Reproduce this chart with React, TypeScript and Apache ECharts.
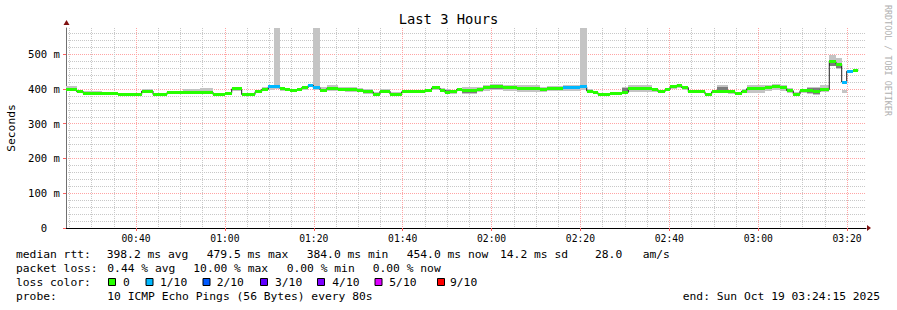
import React, { useEffect, useRef } from "react";
import * as echarts from "echarts";

// ---- data (time in clock minutes since 00:00, values in ms) ----
const segStart = [
  24.25, 26.66, 28.14, 32.28, 35.95, 41.28, 43.83, 46.98, 50.58, 54.4,
  57.33, 60.03, 61.53, 63.78, 66.78, 68.28, 69.77, 71.05, 72.4, 73.53,
  74.65, 76.16, 77.28, 78.77, 79.89, 81.4, 82.91, 85.52, 87.03, 89.66,
  91.14, 93.39, 94.9, 97.15, 99.78, 105.03, 106.53, 108.4, 109.53, 110.65,
  112.16, 113.28, 116.66, 118.14, 119.65, 122.64, 125.66, 130.9, 132.41, 136.14,
  139.9, 141.41, 142.89, 143.95, 146.65, 149.28, 150.77, 156.03, 157.45, 159.03,
  160.15, 161.66, 162.78, 164.27, 168.03, 169.53, 170.66, 173.27, 174.78, 176.28,
  177.41, 181.53, 183.03, 184.9, 186.41, 187.89, 189.4, 190.91, 192.39, 193.9,
  195.99, 197.5, 198.78, 199.91, 201.39,
];
const dataEnd = 202.52;
const segMedian = [
  398, 392, 387, 386, 384, 394, 384, 390, 389, 391,
  384, 388, 400, 384, 392, 399, 406, 406, 401, 398,
  395, 398, 404, 411, 404, 397, 401, 398, 399, 397,
  392, 385, 394, 385, 392, 397, 403, 397, 389, 392,
  399, 395, 399, 403, 406, 403, 401, 399, 401, 404,
  406, 394, 390, 384, 387, 390, 401, 398, 392, 398,
  406, 411, 404, 392, 385, 392, 394, 392, 387, 394,
  401, 404, 406, 403, 395, 385, 395, 397, 392, 398,
  478, 471, 420, 451, 454,
];
const segLoss = [
  0, 0, 0, 0, 0, 0, 0, 0, 0, 0,
  0, 0, 0, 0, 0, 0, 1, 1, 0, 0,
  0, 0, 0, 1, 1, 0, 0, 0, 0, 0,
  0, 0, 0, 0, 0, 0, 0, 0, 0, 0,
  0, 0, 0, 0, 0, 0, 0, 0, 0, 1,
  1, 0, 0, 0, 0, 0, 0, 0, 0, 0,
  0, 0, 0, 0, 0, 0, 0, 0, 0, 0,
  0, 0, 0, 0, 0, 0, 0, 0, 0, 0,
  0, 0, 1, 1, 0,
];
// outer smoke (all pings)
const smokeLow = [
  394, 389, 385, 384, 383, 391, 383, 386, 386, 387,
  383, 386, 393, 383, 389, 393, 398, 400, 394, 393,
  391, 395, 398, 405, 398, 393, 394, 393, 392, 390,
  386, 383, 389, 383, 387, 392, 398, 392, 386, 386,
  393, 386, 391, 395, 397, 395, 392, 390, 393, 395,
  398, 387, 386, 383, 384, 386, 391, 392, 388, 394,
  401, 404, 398, 388, 383, 387, 388, 386, 384, 389,
  389, 395, 398, 395, 388, 383, 389, 386, 384, 392,
  466, 458, 389, 451, 454,
];
const smokeHigh = [
  408, 397, 394, 389, 387, 400, 388, 395, 399, 402,
  388, 391, 403, 387, 395, 407, 412, 700, 407, 403,
  400, 402, 408, 414, 700, 405, 410, 405, 406, 403,
  400, 392, 400, 390, 398, 401, 406, 402, 400, 398,
  404, 407, 406, 410, 413, 411, 410, 406, 408, 410,
  700, 400, 395, 387, 391, 405, 410, 404, 397, 402,
  410, 414, 408, 397, 389, 396, 410, 398, 392, 400,
  410, 411, 414, 410, 402, 391, 400, 405, 406, 410,
  497, 488, 398, 451, 454,
];
// inner (denser) smoke
const coreLow = [
  398, 392, 387, 386, 384, 392, 384, 390, 389, 391,
  384, 388, 397, 384, 392, 396, 406, 406, 401, 398,
  393, 398, 404, 411, 404, 397, 397, 393, 393, 391,
  387, 385, 391, 385, 392, 397, 403, 397, 387, 392,
  399, 387, 399, 399, 401, 403, 396, 399, 397, 399,
  406, 389, 390, 384, 387, 388, 396, 398, 392, 398,
  406, 411, 404, 392, 385, 392, 392, 392, 387, 394,
  397, 399, 406, 403, 391, 385, 395, 389, 386, 394,
  466, 461, 420, 451, 454,
];
const coreHigh = [
  398, 392, 387, 386, 384, 398, 384, 390, 389, 391,
  384, 388, 402, 384, 392, 404, 406, 406, 401, 398,
  399, 398, 404, 411, 404, 397, 406, 403, 403, 401,
  397, 385, 398, 385, 392, 397, 403, 397, 396, 392,
  399, 401, 399, 407, 410, 403, 405, 399, 405, 407,
  406, 398, 390, 384, 387, 402, 406, 398, 392, 398,
  406, 411, 404, 392, 385, 392, 406, 392, 387, 394,
  407, 409, 406, 403, 399, 385, 395, 402, 402, 404,
  482, 475, 420, 451, 454,
];

const majorTimes = [40, 60, 80, 100, 120, 140, 160, 180, 200];
const minorTimes = [25, 30, 35, 45, 50, 55, 65, 70, 75, 85, 90, 95, 105, 110, 115, 125, 130, 135, 145, 150, 155, 165, 170, 175, 185, 190, 195];
const yMajor = [0, 100, 200, 300, 400, 500];
const yMinor = [20, 40, 60, 80, 120, 140, 160, 180, 220, 240, 260, 280, 320, 340, 360, 380, 420, 440, 460, 480, 520, 540, 560];

const lossLabels = ["0", "1/10", "2/10", "3/10", "4/10", "5/10", "9/10"];
const lossColors = ["#26ff00", "#00b8ff", "#0059ff", "#5e00ff", "#7e00ff", "#dd00ff", "#ff0000"];
const rttStats = [398.2, 479.5, 384.0, 454.0]; // avg, max, min, now
const rttSd = 14.2;
const amPerSec = 28.0;
const lossStats = [0.44, 10.0, 0.0, 0.0]; // avg, max, min, now
const probeText = "10 ICMP Echo Pings (56 Bytes) every 80s";
const endText = "end: Sun Oct 19 03:24:15 2025";
const titleText = "Last 3 Hours";

const X_MIN = 24.25;
const X_MAX = 204.25;
const Y_MAX = 575.4;

const MONO = '"DejaVu Sans Mono", monospace';

function fmtTime(v: number) {
  const h = Math.floor(v / 60);
  const m = Math.round(v - h * 60);
  return String(h).padStart(2, "0") + ":" + String(m).padStart(2, "0");
}

function lossColor(l: number) {
  if (l <= 5) return lossColors[l];
  return lossColors[6];
}

function bandRenderer(color: string) {
  return (params: any, api: any) => {
    const s = api.value(0), e = api.value(1), lo = api.value(2), hi = api.value(3);
    if (hi <= lo) return null;
    const p1 = api.coord([s, hi]);
    const p2 = api.coord([e, lo]);
    const cs = params.coordSys;
    const x1 = Math.round(p1[0]), y1 = Math.round(p1[1]);
    const x2 = Math.round(p2[0]), y2 = Math.round(p2[1]);
    const r = echarts.graphic.clipRectByRect(
      { x: x1, y: y1, width: x2 - x1, height: Math.max(1, y2 - y1) },
      { x: cs.x, y: cs.y, width: cs.width, height: cs.height }
    );
    if (!r) return null;
    return { type: "rect", shape: r, style: { fill: color } };
  };
}

export default function App() {
  const ref = useRef<HTMLDivElement>(null);
  useEffect(() => {
    if (!ref.current) return;
    const chart = echarts.init(ref.current, null, { renderer: "svg" });

    const segEnds = segStart.map((s, i) => (i < segStart.length - 1 ? segStart[i + 1] : dataEnd));
    const smokeData = segStart.map((s, i) => [s, segEnds[i], smokeLow[i], smokeHigh[i]]);
    const coreData = segStart.map((s, i) => [s, segEnds[i], coreLow[i], coreHigh[i]]);
    const medData = segStart.map((s, i) => [s, segEnds[i], segMedian[i], segLoss[i]]);
    const stepData = segStart.map((s, i) => [s, segMedian[i]]);
    stepData.push([dataEnd, segMedian[segMedian.length - 1]]);

    const textEl = (x: number, y: number, text: string, size = 11.3, align = "left") => ({
      type: "text",
      x,
      y,
      silent: true,
      style: {
        text,
        fill: "#000",
        font: `${size}px ${MONO}`,
        align,
        textAlign: align,
        verticalAlign: "middle",
        textVerticalAlign: "middle",
      },
    });

    const graphics: any[] = [];
    graphics.push(textEl(448.5, 19, titleText, 13.8, "center"));
    // line 1
    const l1y = 254;
    graphics.push(textEl(16, l1y, "median rtt:"));
    graphics.push(textEl(106.7, l1y, `${rttStats[0].toFixed(1)} ms avg`));
    graphics.push(textEl(206.7, l1y, `${rttStats[1].toFixed(1)} ms max`));
    graphics.push(textEl(306.7, l1y, `${rttStats[2].toFixed(1)} ms min`));
    graphics.push(textEl(406.7, l1y, `${rttStats[3].toFixed(1)} ms now`));
    graphics.push(textEl(500, l1y, `${rttSd.toFixed(1)} ms sd`));
    graphics.push(textEl(595, l1y, `${amPerSec.toFixed(1)}`));
    graphics.push(textEl(642.7, l1y, "am/s"));
    // line 2
    const l2y = 268;
    graphics.push(textEl(16, l2y, "packet loss:"));
    graphics.push(textEl(107.3, l2y, `${lossStats[0].toFixed(2)} % avg`));
    graphics.push(textEl(193.3, l2y, `${lossStats[1].toFixed(2)} % max`));
    graphics.push(textEl(286.7, l2y, `${lossStats[2].toFixed(2)} % min`));
    graphics.push(textEl(372.7, l2y, `${lossStats[3].toFixed(2)} % now`));
    // line 3
    const l3y = 282;
    graphics.push(textEl(16, l3y, "loss color:"));
    const sqX = [108, 145.5, 202.5, 260, 317, 374.5, 437];
    const lbX = [123, 160, 216.7, 275, 332.3, 389.3, 450];
    lossLabels.forEach((lab, i) => {
      graphics.push({
        type: "rect",
        silent: true,
        shape: { x: sqX[i] + 0.5, y: l3y - 3.5, width: 7, height: 7 },
        style: { fill: lossColors[i], stroke: "#000", lineWidth: 1 },
      });
      graphics.push(textEl(lbX[i], l3y, lab));
    });
    // line 4
    const l4y = 296;
    graphics.push(textEl(16, l4y, "probe:"));
    graphics.push(textEl(107.3, l4y, probeText));
    graphics.push(textEl(880, l4y, endText, 11.3, "right"));
    // watermark
    graphics.push({
      type: "text",
      x: 887.5,
      y: 5,
      rotation: -Math.PI / 2,
      silent: true,
      style: {
        text: "RRDTOOL / TOBI OETIKER",
        fill: "#b0b0b0",
        font: `8.4px ${MONO}`,
        align: "left",
        textAlign: "left",
        verticalAlign: "middle",
        textVerticalAlign: "middle",
      },
    });
    // axis arrows
    graphics.push({
      type: "polygon",
      silent: true,
      shape: { points: [[867, 225], [867, 231], [871, 228]] },
      style: { fill: "#7f1010" },
    });
    graphics.push({
      type: "polygon",
      silent: true,
      shape: { points: [[63.5, 25], [69.5, 25], [66.5, 20]] },
      style: { fill: "#7f1010" },
    });

    const option: any = {
      animation: false,
      backgroundColor: "#ffffff",
      grid: { left: 66, top: 28, width: 800, height: 200, containLabel: false, outerBoundsMode: "none" },
      xAxis: [
        {
          type: "value",
          min: X_MIN,
          max: X_MAX,
          position: "bottom",
          axisLine: { show: false },
          axisLabel: { show: false },
          axisTick: { show: false, customValues: minorTimes },
          splitLine: { show: true, lineStyle: { color: "#c8c8c8", width: 1, type: [1, 1] } },
        },
        {
          type: "value",
          min: X_MIN,
          max: X_MAX,
          position: "bottom",
          axisLine: { show: true, onZero: false, lineStyle: { color: "#000", width: 1 } },
          axisTick: { show: true, customValues: majorTimes, length: 3, lineStyle: { color: "#ff5f5f" } },
          axisLabel: {
            customValues: majorTimes,
            formatter: (v: number) => fmtTime(v),
            fontFamily: MONO,
            fontSize: 9.7,
            color: "#000",
            margin: 5,
          },
          splitLine: { show: true, lineStyle: { color: "#ffa4a4", width: 1, type: [1, 1] } },
        },
      ],
      yAxis: [
        {
          type: "value",
          min: 0,
          max: Y_MAX,
          position: "left",
          axisLine: { show: false },
          axisLabel: { show: false },
          axisTick: { show: false, customValues: yMinor },
          splitLine: { show: true, lineStyle: { color: "#c8c8c8", width: 1, type: [1, 1] } },
        },
        {
          type: "value",
          min: 0,
          max: Y_MAX,
          position: "left",
          axisLine: { show: true, onZero: false, lineStyle: { color: "#707070", width: 1 } },
          axisTick: { show: true, customValues: yMajor, length: 3, lineStyle: { color: "#ff5f5f" } },
          axisLabel: {
            customValues: yMajor,
            formatter: (v: number) => (v === 0 ? "0\u00a0\u00a0" : `${v} m`),
            fontFamily: MONO,
            fontSize: 10.6,
            color: "#000",
            margin: 6,
          },
          splitLine: { show: true, lineStyle: { color: "#ffa4a4", width: 1, type: [1, 1] } },
          name: "Seconds",
          nameLocation: "middle",
          nameGap: 49,
          nameTextStyle: { fontFamily: MONO, fontSize: 11.3, color: "#000" },
        },
      ],
      series: [
        {
          type: "custom",
          name: "smoke",
          xAxisIndex: 1,
          yAxisIndex: 1,
          clip: true,
          z: 1,
          data: smokeData,
          encode: { x: [0, 1], y: [2, 3] },
          renderItem: bandRenderer("#c4c4c4"),
        },
        {
          type: "custom",
          name: "smoke-core",
          xAxisIndex: 1,
          yAxisIndex: 1,
          clip: true,
          z: 1,
          data: coreData,
          encode: { x: [0, 1], y: [2, 3] },
          renderItem: bandRenderer("#7c7c7c"),
        },
        {
          type: "line",
          name: "median-step",
          xAxisIndex: 1,
          yAxisIndex: 1,
          z: 2,
          data: stepData,
          step: "end",
          symbol: "none",
          lineStyle: { color: "#202020", width: 1 },
        },
        {
          type: "custom",
          name: "median",
          xAxisIndex: 1,
          yAxisIndex: 1,
          z: 3,
          data: medData,
          encode: { x: [0, 1], y: 2 },
          renderItem: (params: any, api: any) => {
            const s = api.value(0), e = api.value(1), m = api.value(2), l = api.value(3);
            const p1 = api.coord([s, m]);
            const p2 = api.coord([e, m]);
            const x1 = Math.round(p1[0]);
            const x2 = Math.round(p2[0]);
            return {
              type: "rect",
              shape: { x: x1, y: Math.round(p1[1] - 1.5), width: x2 - x1, height: 3 },
              style: { fill: lossColor(l) },
            };
          },
        },
      ],
      graphic: { elements: graphics },
    };
    chart.setOption(option);
    return () => chart.dispose();
  }, []);
  return (
    <div
      ref={ref}
      style={{ position: "fixed", left: 0, top: 0, width: 897, height: 310, background: "#fff" }}
    />
  );
}
